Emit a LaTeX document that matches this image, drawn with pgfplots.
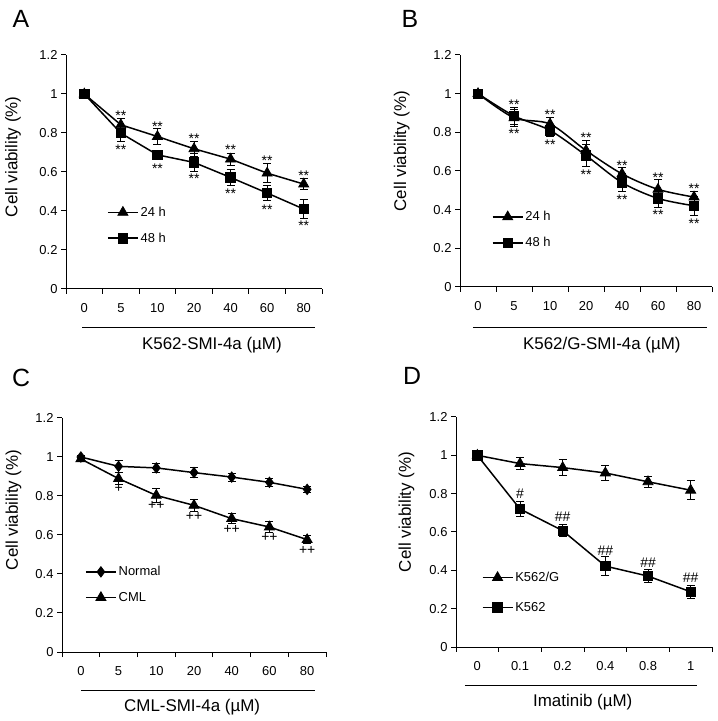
\documentclass[border=0pt]{standalone}
\usepackage{fontspec}
\setmainfont{Liberation Sans}
\usepackage{pgfplots}
\pgfplotsset{compat=1.18}

\newcommand{\fs}[1]{\fontsize{#1}{#1}\selectfont}
\tikzset{ann/.style={font=\fs{14}}}

\pgfplotsset{
  panel/.style={
    scale only axis,
    axis lines=left, axis line style={-, line width=1pt},
    ymin=0, ymax=1.2,
    ytick={0,0.2,0.4,0.6,0.8,1,1.2},
    yticklabels={0,0.2,0.4,0.6,0.8,1,1.2},
    tick align=outside, major tick length=5bp,
    tick style={black, line width=1pt},
    tick label style={font=\fs{13}},
    /pgf/number format/assume math mode=true,
    xticklabels={},
    extra x tick style={major tick length=0pt, tick label style={yshift=-11bp}},
    ylabel={Cell viability (\%)},
    error bars/y dir=both, error bars/y explicit,
    error bars/error bar style={line width=0.9pt, black},
    error bars/error mark options={rotate=90, mark size=4bp, line width=0.9pt, black},
    legend style={draw=none, fill=none, font=\fs{13}, row sep=11bp, inner sep=0pt},
    legend cell align=left,
    legend image code/.code={\draw[mark repeat=2, mark phase=2] plot coordinates {(0bp,0bp) (15bp,0bp) (30bp,0bp)};},
    clip=false,
  },
  ln/.style={black, line width=1.5pt, mark options={solid, fill=black, line width=0.8pt}},
  tri/.style={ln, mark=triangle*, mark size=5.8bp},
  sq/.style={ln, mark=square*, mark size=4.7bp},
  dia/.style={ln, mark=diamond*, mark size=5.2bp},
}

\begin{document}
\begin{tikzpicture}[x=1bp,y=1bp]
\useasboundingbox (0,0) rectangle (718,721);

% ---------------- A
\node[font=\fs{25}] at (21,702) {A};
\begin{axis}[panel, at={(66bp,432bp)}, anchor=south west, width=256bp, height=234bp,
  xmin=-0.5, xmax=6.5, xtick={-0.5,0.5,...,6.5},
  extra x ticks={0,1,2,3,4,5,6}, extra x tick labels={0,5,10,20,40,60,80},
  ylabel style={font=\fs{17}, at={(axis description cs:-0.207,0.565)}, anchor=center, rotate=0},
  legend style={at={(rel axis cs:0.16,0.36)}, anchor=north west}]
\addplot[tri] table[x=x, y=y, y error=e] {
x y e
0 1.000 0.02
1 0.842 0.03
2 0.782 0.04
3 0.719 0.04
4 0.666 0.03
5 0.594 0.05
6 0.538 0.03
};
\addlegendentry{24 h}
\addplot[sq] table[x=x, y=y, y error=e] {
x y e
0 1.000 0.02
1 0.799 0.04
2 0.688 0.02
3 0.649 0.045
4 0.572 0.04
5 0.492 0.04
6 0.410 0.05
};
\addlegendentry{48 h}
\node[ann] at (axis cs:1,0.888) {**};
\node[ann] at (axis cs:2,0.834) {**};
\node[ann] at (axis cs:3,0.769) {**};
\node[ann] at (axis cs:4,0.712) {**};
\node[ann] at (axis cs:5,0.658) {**};
\node[ann] at (axis cs:6,0.581) {**};
\node[ann] at (axis cs:1,0.714) {**};
\node[ann] at (axis cs:2,0.619) {**};
\node[ann] at (axis cs:3,0.564) {**};
\node[ann] at (axis cs:4,0.487) {**};
\node[ann] at (axis cs:5,0.407) {**};
\node[ann] at (axis cs:6,0.322) {**};
\draw[line width=0.8pt] ([yshift=-38bp]axis cs:-0.06,0) -- ([yshift=-38bp]axis cs:6.3,0);
\node[font=\fs{17}, yshift=-56bp] at (axis cs:3.49,0) {K562-SMI-4a (µM)};
\end{axis}

% ---------------- B
\node[font=\fs{25}] at (410,702) {B};
\begin{axis}[panel, at={(460bp,434bp)}, anchor=south west, width=252bp, height=232bp,
  xmin=-0.5, xmax=6.5, xtick={-0.5,0.5,...,6.5},
  extra x ticks={0,1,2,3,4,5,6}, extra x tick labels={0,5,10,20,40,60,80},
  ylabel style={font=\fs{17}, at={(axis description cs:-0.231,0.586)}, anchor=center, rotate=0},
  legend style={at={(rel axis cs:0.126,0.335)}, anchor=north west}]
\addplot[tri, smooth] table[x=x, y=y, y error=e] {
x y e
0 1.000 0.02
1 0.875 0.045
2 0.843 0.035
3 0.706 0.05
4 0.585 0.035
5 0.505 0.05
6 0.465 0.03
};
\addlegendentry{24 h}
\addplot[sq, smooth] table[x=x, y=y, y error=e] {
x y e
0 1.000 0.02
1 0.885 0.045
2 0.810 0.03
3 0.680 0.055
4 0.540 0.045
5 0.458 0.045
6 0.420 0.05
};
\addlegendentry{48 h}
\node[ann] at (axis cs:1,0.945) {**};
\node[ann] at (axis cs:2,0.893) {**};
\node[ann] at (axis cs:3,0.773) {**};
\node[ann] at (axis cs:4,0.627) {**};
\node[ann] at (axis cs:5,0.565) {**};
\node[ann] at (axis cs:6,0.508) {**};
\node[ann] at (axis cs:1,0.795) {**};
\node[ann] at (axis cs:2,0.735) {**};
\node[ann] at (axis cs:3,0.583) {**};
\node[ann] at (axis cs:4,0.450) {**};
\node[ann] at (axis cs:5,0.375) {**};
\node[ann] at (axis cs:6,0.327) {**};
\draw[line width=0.8pt] ([yshift=-40bp]axis cs:-0.14,0) -- ([yshift=-40bp]axis cs:6.36,0);
\node[font=\fs{17}, yshift=-58bp] at (axis cs:3.44,0) {K562/G-SMI-4a (µM)};
\end{axis}

% ---------------- C
\node[font=\fs{25}] at (21,343.5) {C};
\begin{axis}[panel, at={(62bp,69bp)}, anchor=south west, width=264bp, height=234bp,
  xmin=-0.5, xmax=6.5, xtick={-0.5,0.5,...,6.5},
  extra x ticks={0,1,2,3,4,5,6}, extra x tick labels={0,5,10,20,40,60,80},
  ylabel style={font=\fs{17}, at={(axis description cs:-0.184,0.607)}, anchor=center, rotate=0},
  legend style={at={(rel axis cs:0.087,0.375)}, anchor=north west}]
\addplot[dia] table[x=x, y=y, y error=e] {
x y e
0 1.000 0.01
1 0.952 0.03
2 0.944 0.025
3 0.920 0.025
4 0.897 0.02
5 0.870 0.02
6 0.834 0.015
};
\addlegendentry{Normal}
\addplot[tri] table[x=x, y=y, y error=e] {
x y e
0 0.990 0.01
1 0.889 0.03
2 0.803 0.035
3 0.752 0.03
4 0.684 0.025
5 0.641 0.03
6 0.576 0.02
};
\addlegendentry{CML}
\node[ann] at (axis cs:1,0.838) {+};
\node[ann] at (axis cs:2,0.749) {++};
\node[ann] at (axis cs:3,0.697) {++};
\node[ann] at (axis cs:4,0.629) {++};
\node[ann] at (axis cs:5,0.585) {++};
\node[ann] at (axis cs:6,0.521) {++};
\draw[line width=0.8pt] ([yshift=-38bp]axis cs:0,0) -- ([yshift=-38bp]axis cs:6.21,0);
\node[font=\fs{17}, yshift=-55bp] at (axis cs:2.95,0) {CML-SMI-4a (µM)};
\end{axis}

% ---------------- D
\node[font=\fs{25}] at (412,345) {D};
\begin{axis}[panel, at={(456bp,74bp)}, anchor=south west, width=256bp, height=230bp,
  xmin=-0.5, xmax=5.5, xtick={-0.5,0.5,...,5.5},
  extra x ticks={0,1,2,3,4,5}, extra x tick labels={0,0.1,0.2,0.4,0.8,1},
  ylabel style={font=\fs{17}, at={(axis description cs:-0.193,0.587)}, anchor=center, rotate=0},
  legend style={at={(rel axis cs:0.10,0.335)}, anchor=north west, row sep=15bp}]
\addplot[tri] table[x=x, y=y, y error=e] {
x y e
0 1.000 0.02
1 0.957 0.03
2 0.936 0.04
3 0.908 0.04
4 0.862 0.03
5 0.818 0.05
};
\addlegendentry{K562/G}
\addplot[sq] table[x=x, y=y, y error=e] {
x y e
0 1.000 0.02
1 0.720 0.04
2 0.607 0.03
3 0.422 0.05
4 0.370 0.035
5 0.288 0.035
};
\addlegendentry{K562}
\node[ann] at (axis cs:1,0.798) {\#};
\node[ann] at (axis cs:2,0.680) {\#\#};
\node[ann] at (axis cs:3,0.503) {\#\#};
\node[ann] at (axis cs:4,0.440) {\#\#};
\node[ann] at (axis cs:5,0.364) {\#\#};
\draw[line width=0.8pt] ([yshift=-38bp]axis cs:-0.29,0) -- ([yshift=-38bp]axis cs:5.14,0);
\node[font=\fs{17}, yshift=-55bp] at (axis cs:2.47,0) {Imatinib (µM)};
\end{axis}
\end{tikzpicture}
\end{document}
